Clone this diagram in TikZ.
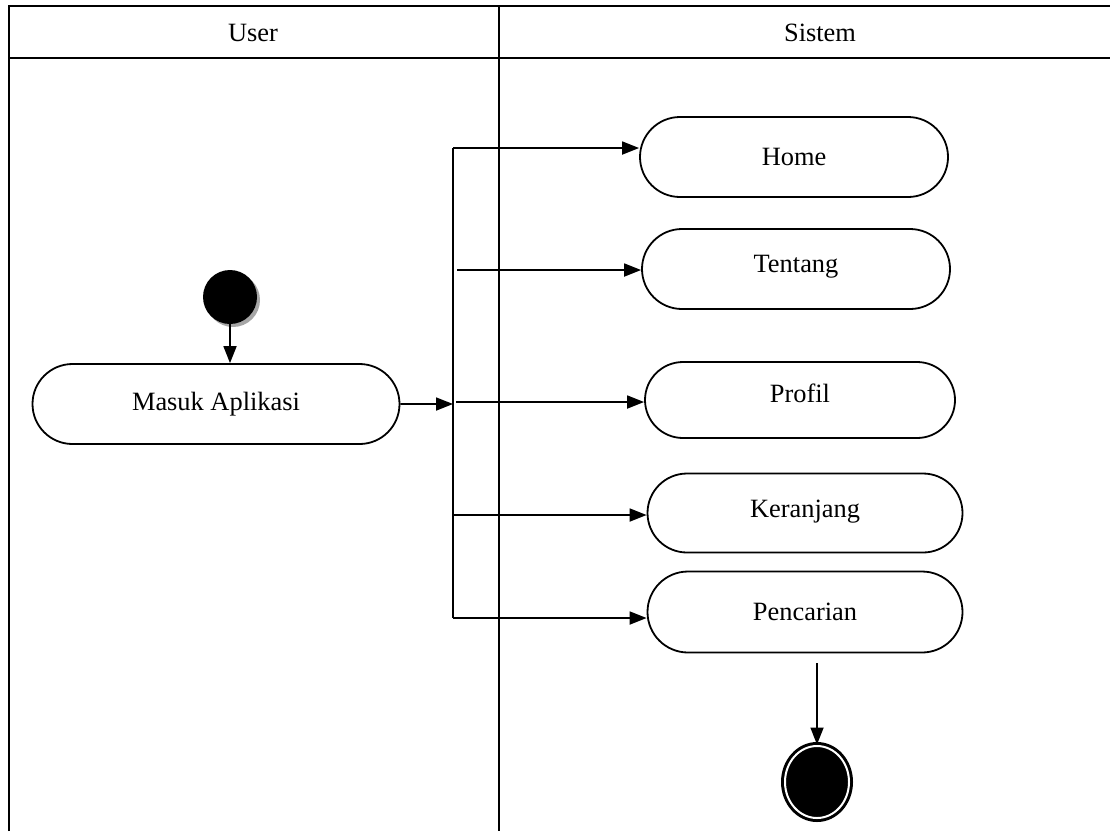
\documentclass[tikz,border=0pt]{standalone}
\usepackage{fontspec}
\setmainfont{Liberation Serif}
\usetikzlibrary{shapes.misc, shapes.geometric, arrows.meta, positioning, shadows}

\begin{document}
\begin{tikzpicture}[
    x=1pt, y=-1pt,
    font=\fontsize{26.4}{30}\selectfont,
    lane/.style={line width=2pt},
    action/.style={rounded rectangle, draw, line width=1.8pt, minimum height=80pt, inner sep=0pt},
    start/.style={circle, fill=black, minimum size=54pt, inner sep=0pt, drop shadow={shadow xshift=3pt, shadow yshift=-3pt, fill=gray!70, opacity=1}},
    finish/.style={ellipse, draw=black, double=white, double distance=2pt, line width=3pt, fill=black, minimum width=64pt, minimum height=72pt, inner sep=0pt},
    arrow/.style={-{Triangle[length=17pt,width=13pt]}, line width=1.8pt},
    line/.style={line width=1.8pt}
]
    \useasboundingbox (0,0) rectangle (1110,831);

    % Swimlanes
    \draw[lane] (9,831) -- (9,6) -- (1110,6);
    \draw[lane] (9,58) -- (1110,58);
    \draw[lane] (499,6) -- (499,831);
    \node (user) at (253,33) {User};
    \node (sistem) at (820,33) {Sistem};

    % Nodes
    \node[start] (mulai) at (230,297) {};
    \node[action, minimum width=367pt] (masuk) at (216,404) {Masuk Aplikasi};
    \node[action, minimum width=308pt] (home) at (794,157) {Home};
    \node[action, minimum width=308pt, text depth=10pt] (tentang) at (796,269) {Tentang};
    \node[action, minimum width=310pt, minimum height=76pt, text depth=14pt] (profil) at (800,400) {Profil};
    \node[action, minimum width=315pt, minimum height=79pt, text depth=8pt] (keranjang) at (805,513) {Keranjang};
    \node[action, minimum width=315pt, minimum height=81pt] (pencarian) at (805,612) {Pencarian};
    \node[finish] (selesai) at (817,782) {};

    % Branch points
    \coordinate (fork) at (453,404);
    \coordinate (b1) at (453,148);
    \coordinate (b2) at (457,270);
    \coordinate (b3) at (456,402);
    \coordinate (b4) at (453,515);
    \coordinate (b5) at (453,618);

    % Arrows
    \draw[arrow] (mulai) -- (mulai |- masuk.north);
    \draw[arrow] (masuk) -- (fork);
    \draw[line] (b1) -- (b5);
    \draw[arrow] (b1) -- (b1 -| home.west);
    \draw[arrow] (b2) -- (b2 -| tentang.west);
    \draw[arrow] (b3) -- (b3 -| profil.west);
    \draw[arrow] (b4) -- (b4 -| keranjang.west);
    \draw[arrow] (b5) -- (b5 -| pencarian.west);
    \draw[arrow] ([yshift=-10pt]pencarian.south -| selesai) -- (selesai);
\end{tikzpicture}
\end{document}
